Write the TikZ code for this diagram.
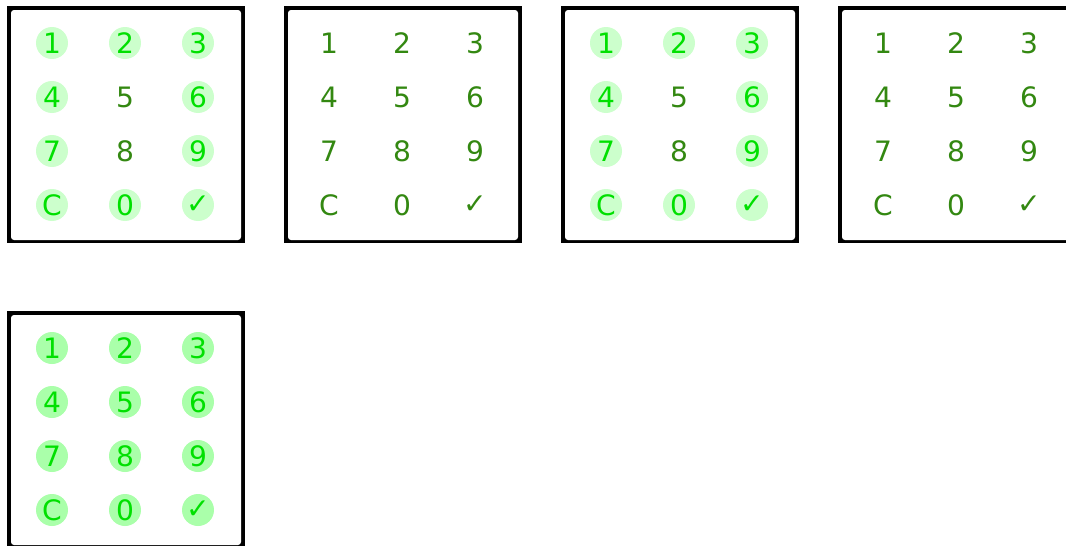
\documentclass[tikz,border=0pt]{standalone}
\usepackage{fontspec}
\setmainfont{DejaVu Sans}
\definecolor{keytext}{HTML}{338811}
\definecolor{keylit}{HTML}{00E000}
\definecolor{padlight}{HTML}{CCFFCC}
\definecolor{padfull}{HTML}{AAFFAA}
\tikzstyle{frame}=[fill=black]
\tikzstyle{face}=[fill=white, rounded corners=1.7pt]
\tikzstyle{key}=[shape=circle, minimum size=0.64cm, inner sep=0, text=keytext, font=\fontsize{16}{16}\selectfont]
\tikzstyle{pad0}=[]
\tikzstyle{pad1}=[fill=padlight, text=keylit]
\tikzstyle{pad2}=[fill=padfull, text=keylit]

\begin{document}
\begin{tikzpicture}[x=0.02cm, y=-0.02cm]
\clip (0,0) rectangle (1066,545);
% keypads: number / offset x / offset y / mode (0 none, 1 partly lit, 2 all lit)
\foreach \p/\ox/\oy/\m in {1/0/0/1, 2/277/0/0, 3/554/0/1, 4/831/0/0, 5/0/305/2}
{
\fill[frame] (\ox+7,\oy+6) rectangle (\ox+245,\oy+243);
\fill[face] (\ox+11,\oy+10) rectangle (\ox+241,\oy+240);
\foreach \k/\t/\c/\r/\s in {1/1/0/0/1, 2/2/1/0/1, 3/3/2/0/1, 4/4/0/1/1, 5/5/1/1/0, 6/6/2/1/1,
  7/7/0/2/1, 8/8/1/2/0, 9/9/2/2/1, C/C/0/3/1, 0/0/1/3/1, ok/✓/2/3/1}
{
\pgfmathtruncatemacro{\st}{\m==2 ? 2 : ((\m==1 && \s==1) ? 1 : 0)}
\node[key, pad\st] (k\p-\k) at (\ox+52+73*\c, \oy+43+54*\r) {\t};
}
}
\end{tikzpicture}
\end{document}
